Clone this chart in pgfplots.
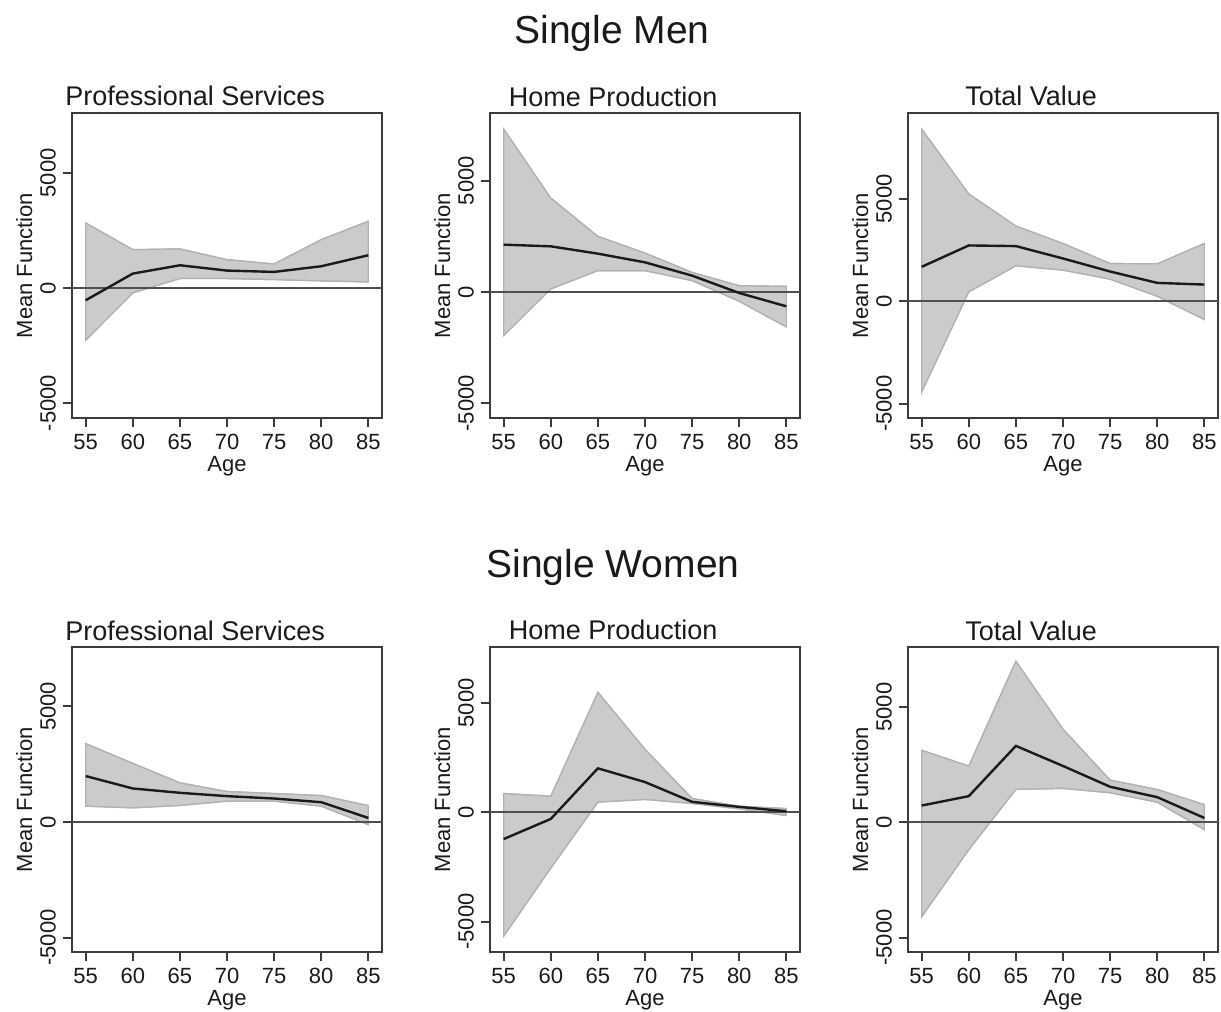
\documentclass[border=0pt]{standalone}
\usepackage{fontspec}
\setmainfont{Liberation Sans}
\setsansfont{Liberation Sans}
\usepackage{pgfplots}
\usepackage{pgfplotstable}
\pgfplotsset{compat=1.18}
\usepgfplotslibrary{fillbetween}

\definecolor{axisgray}{HTML}{3C3C3C}
\definecolor{zerogray}{HTML}{505050}
\definecolor{bandfill}{HTML}{CBCBCB}
\definecolor{bandedge}{HTML}{B2B2B2}
\definecolor{meanline}{HTML}{1A1A1A}
\definecolor{textcol}{HTML}{1A1A1A}

% age, mean function, lower and upper band
\pgfplotstableread{
age mean lo hi
55 -536 -2275 2826
60 623 -217 1667
65 985 406 1696
70 754 406 1232
75 696 362 1043
80 942 304 2101
85 1420 261 2899
}\menprof
\pgfplotstableread{
age mean lo hi
55 2126 -1961 7320
60 2051 135 4222
65 1722 958 2500
70 1332 958 1751
75 734 509 883
80 -45 -419 284
85 -644 -1572 254
}\menhome
\pgfplotstableread{
age mean lo hi
55 1680 -4437 8401
60 2724 457 5237
65 2692 1729 3671
70 2088 1517 2822
75 1452 1077 1843
80 897 245 1827
85 816 -897 2822
}\mentotal
\pgfplotstableread{
age mean lo hi
55 1986 681 3391
60 1449 609 2536
65 1261 710 1696
70 1116 899 1319
75 1014 899 1232
80 855 681 1145
85 174 -116 710
}\womenprof
\pgfplotstableread{
age mean lo hi
55 -1227 -5675 859
60 -307 -2561 736
65 2009 460 5491
70 1380 583 2883
75 475 399 629
80 245 153 276
85 46 -153 169
}\womenhome
\pgfplotstableread{
age mean lo hi
55 727 -4099 3125
60 1134 -1192 2442
65 3314 1424 6991
70 2442 1468 4041
75 1541 1279 1831
80 1090 872 1424
85 189 -320 770
}\womentotal

\pgfplotsset{
  panel/.style={
    scale only axis, width=155pt, height=152.5pt, anchor=south west,
    xmin=53.55, xmax=86.45,
    xtick={55,60,65,70,75,80,85}, xticklabels={55,60,65,70,75,80,85},
    ytick={-5000,0,5000}, yticklabels={-5000,0,5000},
    tick align=outside, xtick pos=bottom, ytick pos=left,
    major tick length=4.5pt,
    every tick/.style={line width=1pt, color=axisgray},
    axis line style={line width=1pt, color=axisgray},
    ticklabel style={font=\fontsize{11}{13}\selectfont, text=textcol},
    yticklabel style={rotate=90, anchor=south},
    xlabel={Age}, ylabel={Mean Function},
    label style={font=\fontsize{11}{13}\selectfont, text=textcol},
    xlabel style={at={(axis description cs:0.5,-0.174)}, anchor=base},
    ylabel style={at={(axis description cs:-0.129,0.5)}, anchor=base},
    title style={at={(axis description cs:0.397,1)}, anchor=base, yshift=-2.5pt,
      font=\fontsize{13.5}{16}\selectfont, text=textcol},
  },
}

% one panel: band, zero reference line, mean function
\newcommand{\panelplots}[1]{%
  \addplot[draw=bandedge, line width=0.6pt, name path=hi] table[x=age, y=hi] {#1};
  \addplot[draw=bandedge, line width=0.6pt, name path=lo] table[x=age, y=lo] {#1};
  \addplot[fill=bandfill, draw=bandedge, line width=0.6pt] fill between[of=hi and lo];
  \addplot[zerogray, line width=1pt] coordinates {(53.55,0) (86.45,0)};
  \addplot[meanline, line width=1.2pt] table[x=age, y=mean] {#1};
}

\begin{document}
\begin{tikzpicture}
\node[anchor=base, font=\fontsize{19.5}{23}\selectfont, text=textcol] at (306pt,-21.5pt) {Single Men};
\node[anchor=base, font=\fontsize{19.5}{23}\selectfont, text=textcol] at (306.5pt,-288.5pt) {Single Women};

\begin{axis}[panel, at={(36pt,-209pt)}, ymin=-5650, ymax=7600, title={Professional Services}]
\panelplots{\menprof}
\end{axis}
\begin{axis}[panel, at={(245pt,-209pt)}, ymin=-5660, ymax=8040, title={Home Production}]
\panelplots{\menhome}
\end{axis}
\begin{axis}[panel, at={(454pt,-209pt)}, ymin=-5693, ymax=9184, title={Total Value}]
\panelplots{\mentotal}
\end{axis}

\begin{axis}[panel, at={(36pt,-476pt)}, ymin=-5623, ymax=7565, title={Professional Services}]
\panelplots{\womenprof}
\end{axis}
\begin{axis}[panel, at={(245pt,-476pt)}, ymin=-6396, ymax=7561, title={Home Production}]
\panelplots{\womenhome}
\end{axis}
\begin{axis}[panel, at={(454pt,-476pt)}, ymin=-5625, ymax=7602, title={Total Value}]
\panelplots{\womentotal}
\end{axis}

% fix the page to the full figure area
\pgfresetboundingbox
\useasboundingbox (0pt,0pt) rectangle (610.5pt,-506pt);
\end{tikzpicture}
\end{document}
